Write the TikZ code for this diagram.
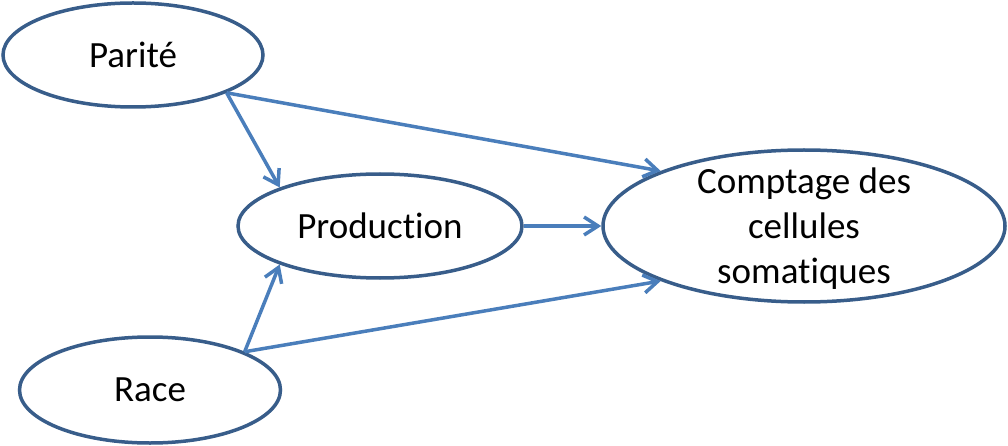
\documentclass[tikz,border=0pt]{standalone}
\usepackage{fontspec}
\setmainfont[Ligatures=NoCommon]{Carlito}
\usetikzlibrary{shapes.geometric,arrows.meta}
\definecolor{ellcol}{RGB}{56,93,138}
\definecolor{arrcol}{RGB}{74,126,187}
\begin{document}
\begin{tikzpicture}[x=1pt,y=-1pt,
  ell/.style={ellipse,draw=ellcol,line width=3.5pt,inner sep=0pt,font=\fontsize{37}{45}\selectfont},
  conn/.style={draw=arrcol,line width=3.5pt,-{Straight Barb[length=14pt,width=18pt]}}]
\useasboundingbox (0,0) rectangle (1008,446);
\node[ell,minimum width=260pt,minimum height=104pt] (par) at (133,55) {Parité};
\node[ell,minimum width=284pt,minimum height=104pt] (prod) at (380,226) {Production};
\node[ell,minimum width=261pt,minimum height=106pt] (race) at (150,390) {Race};
\node[ell,minimum width=402pt,minimum height=152pt,
  label={[font=\fontsize{37}{45}\selectfont,align=center,yshift=-3pt]center:Comptage des\\cellules\\somatiques}] (comp) at (804,226) {};
\draw[conn] (par.-22) -- (comp.159);
\draw[conn] (par.-22) -- (prod.159);
\draw[conn] (prod.east) -- (comp.west);
\draw[conn] (race.22) -- (prod.201);
\draw[conn] (race.22) -- (comp.201);
\end{tikzpicture}
\end{document}
